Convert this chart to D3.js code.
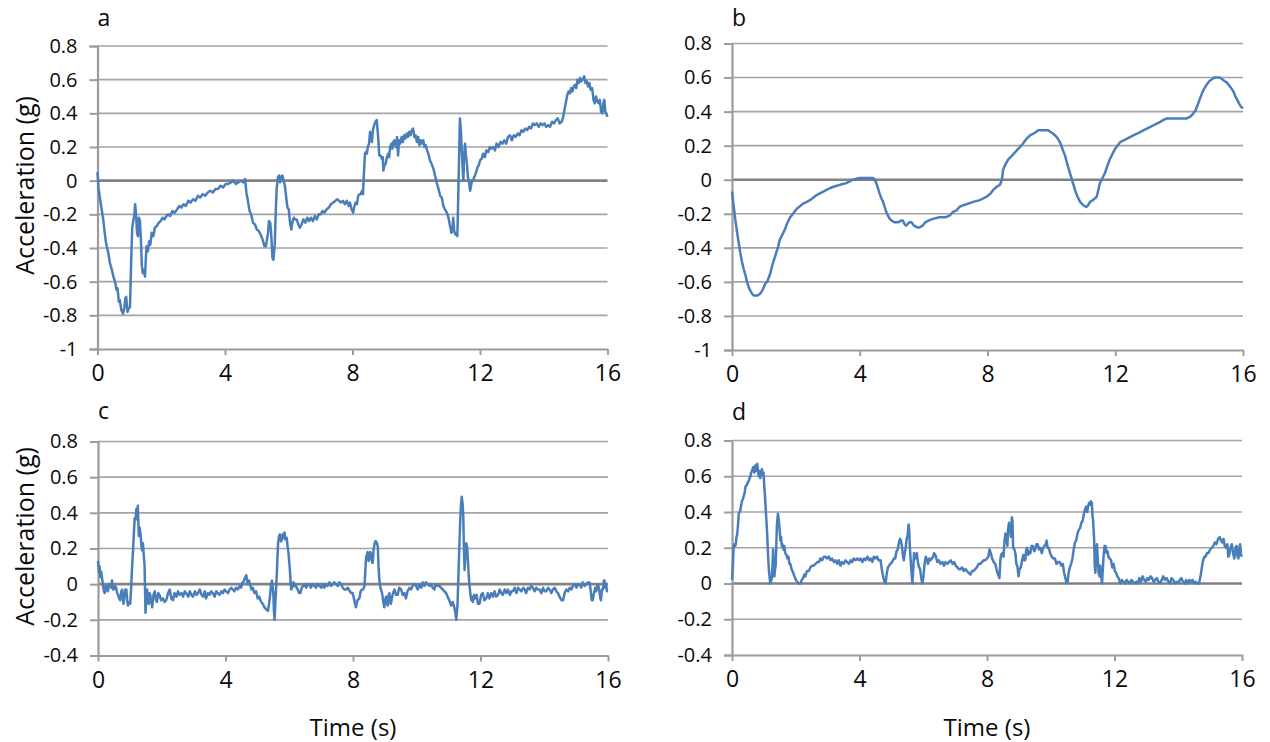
<!DOCTYPE html>
<html>
<head>
<meta charset="utf-8">
<script src="https://cdn.jsdelivr.net/npm/d3@7"></script>
<style>
  html, body { margin: 0; padding: 0; background: #fff; }
  svg { display: block; font-family: "Open Sans", "Noto Sans", sans-serif; }
</style>
</head>
<body>
<svg id="chart" width="1270" height="742"></svg>
<script>
// ---------- Data (time in s, acceleration in g) ----------
const xTickValues = [0, 4, 8, 12, 16];
const yTicksTop = [-1, -0.8, -0.6, -0.4, -0.2, 0, 0.2, 0.4, 0.6, 0.8];
const yTicksBottom = [-0.4, -0.2, 0, 0.2, 0.4, 0.6, 0.8];
const panelLabels = ["a", "b", "c", "d"];
const xTitle = "Time (s)";
const yTitle = "Acceleration (g)";

const seriesA = [[0,0.05],[0.03,-0.04],[0.08,-0.11],[0.13,-0.17],[0.18,-0.23],[0.22,-0.3],[0.26,-0.36],[0.29,-0.39],[0.34,-0.43],[0.39,-0.49],[0.45,-0.53],[0.5,-0.57],[0.55,-0.6],[0.6,-0.65],[0.63,-0.64],[0.67,-0.72],[0.7,-0.71],[0.75,-0.77],[0.8,-0.79],[0.84,-0.76],[0.87,-0.7],[0.9,-0.69],[0.94,-0.78],[0.98,-0.76],[1.02,-0.75],[1.04,-0.6],[1.06,-0.45],[1.09,-0.28],[1.13,-0.23],[1.16,-0.2],[1.18,-0.14],[1.21,-0.2],[1.24,-0.31],[1.27,-0.33],[1.3,-0.22],[1.33,-0.24],[1.36,-0.34],[1.39,-0.5],[1.42,-0.55],[1.46,-0.53],[1.49,-0.57],[1.52,-0.45],[1.54,-0.39],[1.58,-0.42],[1.62,-0.36],[1.66,-0.38],[1.7,-0.31],[1.75,-0.33],[1.8,-0.28],[1.86,-0.27],[1.92,-0.25],[1.98,-0.24],[2.04,-0.22],[2.1,-0.23],[2.16,-0.21],[2.22,-0.2],[2.28,-0.21],[2.35,-0.18],[2.42,-0.19],[2.5,-0.17],[2.57,-0.15],[2.63,-0.16],[2.7,-0.14],[2.77,-0.15],[2.85,-0.12],[2.92,-0.13],[3.0,-0.11],[3.07,-0.12],[3.15,-0.09],[3.22,-0.1],[3.3,-0.08],[3.38,-0.09],[3.46,-0.07],[3.54,-0.06],[3.62,-0.07],[3.7,-0.05],[3.78,-0.05],[3.86,-0.03],[3.94,-0.04],[4.02,-0.02],[4.1,-0.02],[4.18,-0.01],[4.26,0.0],[4.34,-0.02],[4.42,-0.01],[4.5,0.0],[4.58,-0.01],[4.63,0.01],[4.67,-0.07],[4.72,-0.12],[4.77,-0.18],[4.82,-0.2],[4.88,-0.25],[4.94,-0.26],[5.0,-0.29],[5.06,-0.3],[5.12,-0.32],[5.18,-0.35],[5.24,-0.39],[5.28,-0.39],[5.31,-0.36],[5.35,-0.31],[5.38,-0.24],[5.42,-0.25],[5.45,-0.32],[5.49,-0.46],[5.52,-0.47],[5.56,-0.38],[5.59,-0.2],[5.62,-0.05],[5.66,0.02],[5.7,0.03],[5.73,-0.01],[5.76,0.02],[5.8,0.03],[5.84,0.0],[5.88,-0.03],[5.92,-0.1],[5.96,-0.16],[6.0,-0.17],[6.04,-0.25],[6.08,-0.29],[6.12,-0.24],[6.16,-0.22],[6.2,-0.23],[6.25,-0.23],[6.3,-0.26],[6.35,-0.28],[6.4,-0.26],[6.46,-0.23],[6.52,-0.25],[6.58,-0.22],[6.64,-0.24],[6.7,-0.22],[6.76,-0.24],[6.82,-0.21],[6.88,-0.23],[6.94,-0.2],[7.0,-0.2],[7.06,-0.18],[7.12,-0.19],[7.19,-0.17],[7.26,-0.16],[7.32,-0.14],[7.4,-0.13],[7.46,-0.12],[7.52,-0.11],[7.58,-0.12],[7.64,-0.13],[7.7,-0.12],[7.76,-0.14],[7.82,-0.12],[7.88,-0.15],[7.92,-0.13],[7.97,-0.17],[8.02,-0.19],[8.06,-0.15],[8.1,-0.13],[8.14,-0.14],[8.18,-0.09],[8.22,-0.08],[8.26,-0.08],[8.3,-0.06],[8.33,-0.08],[8.36,0.05],[8.39,0.16],[8.42,0.17],[8.45,0.16],[8.48,0.2],[8.52,0.22],[8.55,0.29],[8.58,0.27],[8.61,0.23],[8.64,0.3],[8.68,0.33],[8.72,0.35],[8.76,0.36],[8.8,0.27],[8.84,0.15],[8.88,0.15],[8.92,0.13],[8.95,0.14],[8.97,0.06],[9.0,0.09],[9.04,0.1],[9.08,0.14],[9.12,0.16],[9.15,0.14],[9.18,0.2],[9.22,0.22],[9.25,0.19],[9.28,0.23],[9.32,0.24],[9.36,0.2],[9.4,0.26],[9.43,0.15],[9.46,0.24],[9.5,0.22],[9.54,0.26],[9.58,0.23],[9.62,0.27],[9.66,0.25],[9.7,0.28],[9.74,0.26],[9.78,0.29],[9.82,0.27],[9.86,0.3],[9.9,0.31],[9.94,0.26],[9.98,0.27],[10.02,0.23],[10.06,0.26],[10.1,0.21],[10.14,0.24],[10.18,0.22],[10.22,0.24],[10.26,0.2],[10.3,0.21],[10.34,0.18],[10.38,0.16],[10.43,0.12],[10.48,0.1],[10.54,0.07],[10.59,0.03],[10.64,-0.01],[10.7,-0.05],[10.75,-0.09],[10.8,-0.1],[10.85,-0.15],[10.9,-0.17],[10.96,-0.19],[11.01,-0.22],[11.06,-0.27],[11.1,-0.31],[11.13,-0.3],[11.16,-0.22],[11.19,-0.3],[11.23,-0.32],[11.27,-0.31],[11.29,-0.33],[11.32,-0.07],[11.35,0.2],[11.37,0.37],[11.4,0.3],[11.43,0.17],[11.46,0.05],[11.48,0.0],[11.5,0.15],[11.53,0.22],[11.56,0.15],[11.59,0.1],[11.62,0.02],[11.65,0.0],[11.69,-0.06],[11.72,-0.03],[11.75,0.0],[11.8,0.01],[11.84,0.03],[11.88,0.05],[11.92,0.08],[11.96,0.09],[12.0,0.12],[12.05,0.13],[12.1,0.16],[12.15,0.14],[12.2,0.18],[12.26,0.17],[12.31,0.2],[12.36,0.19],[12.42,0.2],[12.47,0.18],[12.52,0.22],[12.58,0.2],[12.64,0.23],[12.7,0.22],[12.76,0.24],[12.82,0.22],[12.88,0.26],[12.94,0.27],[13.0,0.24],[13.06,0.27],[13.12,0.26],[13.18,0.28],[13.24,0.27],[13.3,0.3],[13.36,0.29],[13.42,0.31],[13.48,0.3],[13.54,0.32],[13.6,0.31],[13.66,0.34],[13.72,0.33],[13.78,0.34],[13.84,0.32],[13.9,0.34],[13.96,0.33],[14.02,0.34],[14.08,0.32],[14.14,0.33],[14.2,0.32],[14.26,0.35],[14.32,0.34],[14.38,0.36],[14.44,0.37],[14.5,0.34],[14.56,0.35],[14.6,0.37],[14.63,0.4],[14.67,0.44],[14.7,0.47],[14.74,0.51],[14.78,0.53],[14.82,0.52],[14.86,0.55],[14.9,0.53],[14.94,0.56],[14.98,0.57],[15.02,0.55],[15.06,0.6],[15.1,0.58],[15.14,0.61],[15.18,0.59],[15.22,0.6],[15.27,0.62],[15.31,0.58],[15.35,0.59],[15.39,0.56],[15.43,0.58],[15.47,0.54],[15.52,0.55],[15.56,0.48],[15.6,0.46],[15.64,0.5],[15.68,0.47],[15.72,0.46],[15.76,0.48],[15.8,0.41],[15.84,0.4],[15.87,0.46],[15.9,0.48],[15.93,0.41],[15.96,0.4],[16.0,0.38]];

const seriesB = [[0,-0.07],[0.05,-0.15],[0.1,-0.23],[0.16,-0.31],[0.21,-0.37],[0.26,-0.43],[0.31,-0.48],[0.36,-0.52],[0.42,-0.56],[0.47,-0.6],[0.52,-0.63],[0.57,-0.65],[0.63,-0.67],[0.68,-0.68],[0.73,-0.68],[0.8,-0.68],[0.88,-0.67],[0.95,-0.65],[1.0,-0.63],[1.04,-0.61],[1.1,-0.6],[1.14,-0.58],[1.2,-0.55],[1.25,-0.51],[1.3,-0.48],[1.35,-0.45],[1.4,-0.42],[1.45,-0.39],[1.5,-0.35],[1.56,-0.33],[1.61,-0.31],[1.66,-0.29],[1.72,-0.26],[1.77,-0.24],[1.82,-0.22],[1.87,-0.21],[1.95,-0.19],[2.03,-0.17],[2.13,-0.155],[2.23,-0.14],[2.34,-0.13],[2.44,-0.12],[2.55,-0.105],[2.65,-0.09],[2.75,-0.08],[2.86,-0.07],[2.96,-0.06],[3.06,-0.05],[3.2,-0.04],[3.38,-0.03],[3.58,-0.02],[3.79,0.0],[4.0,0.01],[4.2,0.01],[4.42,0.01],[4.47,0.0],[4.52,-0.02],[4.57,-0.05],[4.62,-0.08],[4.68,-0.11],[4.73,-0.13],[4.78,-0.16],[4.83,-0.19],[4.88,-0.21],[4.94,-0.23],[5.0,-0.24],[5.1,-0.25],[5.2,-0.25],[5.3,-0.24],[5.35,-0.24],[5.4,-0.26],[5.45,-0.27],[5.5,-0.26],[5.56,-0.25],[5.62,-0.25],[5.7,-0.27],[5.8,-0.28],[5.87,-0.28],[5.97,-0.27],[6.05,-0.25],[6.15,-0.24],[6.29,-0.23],[6.49,-0.22],[6.7,-0.22],[6.82,-0.21],[6.91,-0.19],[7.03,-0.18],[7.12,-0.16],[7.24,-0.15],[7.4,-0.14],[7.55,-0.13],[7.76,-0.12],[7.97,-0.1],[8.1,-0.08],[8.18,-0.06],[8.3,-0.04],[8.39,-0.03],[8.45,0.0],[8.49,0.06],[8.56,0.09],[8.65,0.12],[8.76,0.14],[8.86,0.16],[8.95,0.18],[9.01,0.19],[9.1,0.21],[9.22,0.24],[9.33,0.26],[9.43,0.27],[9.52,0.28],[9.59,0.29],[9.75,0.29],[9.9,0.29],[9.98,0.28],[10.06,0.27],[10.17,0.25],[10.27,0.22],[10.35,0.18],[10.43,0.14],[10.5,0.09],[10.58,0.04],[10.66,-0.01],[10.74,-0.06],[10.82,-0.1],[10.9,-0.13],[11.0,-0.15],[11.09,-0.16],[11.15,-0.15],[11.21,-0.13],[11.3,-0.12],[11.42,-0.1],[11.47,-0.06],[11.52,-0.02],[11.6,0.01],[11.68,0.04],[11.75,0.08],[11.83,0.12],[11.91,0.15],[11.99,0.18],[12.07,0.2],[12.15,0.22],[12.25,0.23],[12.36,0.24],[12.46,0.25],[12.57,0.26],[12.68,0.27],[12.78,0.28],[12.88,0.29],[12.99,0.3],[13.1,0.31],[13.2,0.32],[13.3,0.33],[13.41,0.34],[13.5,0.35],[13.62,0.36],[13.83,0.36],[14.04,0.36],[14.24,0.36],[14.35,0.37],[14.45,0.39],[14.52,0.41],[14.56,0.43],[14.64,0.47],[14.72,0.51],[14.8,0.54],[14.87,0.56],[14.95,0.58],[15.03,0.59],[15.1,0.6],[15.19,0.6],[15.27,0.6],[15.35,0.59],[15.42,0.58],[15.5,0.57],[15.58,0.55],[15.66,0.53],[15.72,0.51],[15.76,0.49],[15.82,0.47],[15.87,0.45],[15.93,0.43],[16.0,0.42]];

const seriesC = [[0,0.13],[0.03,0.07],[0.05,0.1],[0.07,0.04],[0.1,0.07],[0.13,0.03],[0.16,-0.01],[0.19,-0.04],[0.21,-0.05],[0.24,-0.01],[0.26,-0.01],[0.29,-0.03],[0.31,-0.04],[0.35,0.0],[0.39,0.0],[0.42,-0.02],[0.44,0.02],[0.47,-0.03],[0.49,-0.03],[0.53,-0.01],[0.57,-0.02],[0.6,-0.05],[0.63,-0.06],[0.66,-0.08],[0.7,-0.09],[0.73,-0.04],[0.76,-0.03],[0.8,-0.11],[0.83,-0.07],[0.86,-0.03],[0.89,-0.03],[0.92,-0.1],[0.94,-0.12],[0.98,-0.1],[1.01,-0.11],[1.04,-0.02],[1.07,0.1],[1.1,0.19],[1.13,0.3],[1.15,0.37],[1.18,0.36],[1.2,0.42],[1.23,0.4],[1.25,0.44],[1.28,0.27],[1.3,0.32],[1.33,0.29],[1.36,0.22],[1.38,0.19],[1.41,0.23],[1.44,0.15],[1.46,0.11],[1.49,-0.16],[1.52,-0.06],[1.54,-0.03],[1.57,-0.1],[1.59,-0.11],[1.62,-0.05],[1.64,-0.06],[1.67,-0.1],[1.7,-0.13],[1.74,-0.06],[1.78,-0.04],[1.82,-0.09],[1.85,-0.1],[1.89,-0.05],[1.93,-0.06],[1.98,-0.09],[2.04,-0.08],[2.09,-0.1],[2.14,-0.09],[2.2,-0.05],[2.25,-0.03],[2.3,-0.08],[2.35,-0.09],[2.4,-0.05],[2.46,-0.07],[2.51,-0.04],[2.56,-0.06],[2.62,-0.05],[2.67,-0.07],[2.72,-0.04],[2.77,-0.05],[2.83,-0.07],[2.88,-0.04],[2.93,-0.06],[2.98,-0.07],[3.04,-0.04],[3.09,-0.06],[3.14,-0.05],[3.19,-0.03],[3.25,-0.06],[3.3,-0.07],[3.35,-0.04],[3.39,-0.08],[3.45,-0.05],[3.5,-0.06],[3.55,-0.04],[3.6,-0.05],[3.66,-0.07],[3.71,-0.04],[3.76,-0.05],[3.81,-0.06],[3.87,-0.04],[3.92,-0.05],[3.97,-0.03],[4.02,-0.04],[4.08,-0.05],[4.13,-0.03],[4.18,-0.02],[4.23,-0.03],[4.28,-0.04],[4.33,-0.02],[4.39,-0.03],[4.44,-0.01],[4.49,-0.02],[4.53,0.01],[4.56,0.01],[4.6,0.03],[4.65,0.05],[4.7,0.0],[4.74,0.02],[4.78,-0.01],[4.82,-0.03],[4.86,-0.02],[4.91,-0.05],[4.96,-0.04],[5.01,-0.08],[5.06,-0.07],[5.12,-0.1],[5.17,-0.11],[5.22,-0.13],[5.27,-0.14],[5.33,-0.15],[5.36,-0.12],[5.4,-0.06],[5.43,0.0],[5.46,0.02],[5.5,-0.05],[5.52,-0.15],[5.54,-0.2],[5.56,-0.12],[5.58,-0.05],[5.61,0.06],[5.63,0.15],[5.65,0.23],[5.68,0.27],[5.71,0.28],[5.74,0.24],[5.77,0.25],[5.8,0.28],[5.83,0.26],[5.85,0.29],[5.88,0.25],[5.92,0.26],[5.95,0.21],[5.98,0.17],[6.0,0.12],[6.02,0.08],[6.04,0.02],[6.06,-0.03],[6.09,-0.02],[6.13,0.01],[6.16,-0.01],[6.19,0.0],[6.23,-0.02],[6.27,-0.03],[6.31,-0.05],[6.35,-0.05],[6.39,-0.02],[6.44,-0.01],[6.48,0.0],[6.53,-0.02],[6.58,0.0],[6.63,0.0],[6.68,-0.02],[6.73,0.0],[6.79,-0.01],[6.84,-0.02],[6.89,0.0],[6.95,-0.01],[7.0,-0.02],[7.05,0.0],[7.1,-0.02],[7.15,0.0],[7.2,-0.01],[7.26,0.01],[7.31,-0.01],[7.36,0.0],[7.41,0.01],[7.47,0.0],[7.52,-0.01],[7.57,0.01],[7.62,0.0],[7.68,-0.02],[7.73,-0.03],[7.78,-0.03],[7.84,-0.02],[7.9,-0.04],[7.94,-0.05],[7.99,-0.05],[8.04,-0.09],[8.09,-0.13],[8.14,-0.09],[8.2,-0.08],[8.24,-0.04],[8.28,-0.03],[8.32,-0.03],[8.36,-0.01],[8.41,0.15],[8.46,0.18],[8.49,0.13],[8.51,0.14],[8.54,0.18],[8.57,0.17],[8.6,0.12],[8.62,0.12],[8.65,0.2],[8.67,0.22],[8.7,0.24],[8.72,0.24],[8.75,0.23],[8.78,0.21],[8.8,0.1],[8.83,0.02],[8.86,-0.02],[8.88,-0.03],[8.91,-0.05],[8.93,-0.07],[8.96,-0.11],[8.98,-0.13],[9.01,-0.09],[9.04,-0.07],[9.07,-0.11],[9.09,-0.12],[9.12,-0.06],[9.14,-0.05],[9.17,-0.1],[9.19,-0.11],[9.24,-0.06],[9.3,-0.03],[9.35,-0.06],[9.4,-0.06],[9.45,-0.02],[9.51,-0.03],[9.56,-0.06],[9.61,-0.05],[9.66,-0.08],[9.71,-0.04],[9.77,-0.02],[9.82,-0.03],[9.87,-0.01],[9.93,0.0],[9.98,-0.01],[10.03,-0.03],[10.09,0.0],[10.14,-0.02],[10.19,0.01],[10.24,-0.01],[10.29,0.01],[10.35,0.0],[10.4,-0.01],[10.45,0.0],[10.5,-0.02],[10.55,-0.03],[10.6,0.0],[10.66,-0.01],[10.71,-0.01],[10.76,-0.02],[10.82,-0.03],[10.87,-0.04],[10.92,-0.05],[10.97,-0.07],[11.02,-0.09],[11.08,-0.12],[11.13,-0.1],[11.18,-0.13],[11.21,-0.16],[11.24,-0.2],[11.28,-0.11],[11.32,0.12],[11.36,0.34],[11.39,0.45],[11.41,0.49],[11.44,0.45],[11.46,0.38],[11.48,0.2],[11.5,0.08],[11.53,0.18],[11.55,0.23],[11.58,0.21],[11.6,0.15],[11.63,0.05],[11.65,0.0],[11.68,-0.05],[11.71,-0.09],[11.73,-0.07],[11.76,-0.1],[11.8,-0.06],[11.84,-0.08],[11.88,-0.06],[11.92,-0.11],[11.97,-0.11],[12.02,-0.06],[12.07,-0.05],[12.12,-0.09],[12.18,-0.08],[12.23,-0.05],[12.28,-0.08],[12.34,-0.05],[12.39,-0.07],[12.44,-0.04],[12.49,-0.07],[12.55,-0.06],[12.6,-0.03],[12.65,-0.05],[12.7,-0.06],[12.76,-0.03],[12.81,-0.05],[12.86,-0.03],[12.92,-0.06],[12.97,-0.04],[13.02,-0.04],[13.07,-0.02],[13.13,-0.05],[13.18,-0.02],[13.23,-0.03],[13.28,-0.04],[13.34,-0.02],[13.39,-0.03],[13.43,-0.05],[13.49,-0.02],[13.54,-0.03],[13.59,-0.01],[13.64,-0.02],[13.7,-0.04],[13.75,-0.02],[13.8,-0.03],[13.85,-0.03],[13.91,-0.05],[13.96,-0.02],[14.01,-0.04],[14.06,-0.04],[14.12,-0.02],[14.17,-0.03],[14.22,-0.05],[14.27,-0.03],[14.33,-0.02],[14.38,-0.04],[14.43,-0.05],[14.48,-0.07],[14.54,-0.09],[14.59,-0.09],[14.64,-0.05],[14.69,-0.03],[14.75,-0.04],[14.8,-0.02],[14.85,-0.03],[14.9,-0.01],[14.96,0.0],[15.01,-0.02],[15.06,0.0],[15.11,0.0],[15.16,-0.02],[15.21,0.01],[15.27,-0.01],[15.32,0.0],[15.37,0.01],[15.42,0.01],[15.46,-0.04],[15.49,-0.09],[15.52,-0.09],[15.56,-0.05],[15.6,-0.02],[15.63,-0.04],[15.67,0.0],[15.7,-0.01],[15.73,-0.04],[15.76,-0.08],[15.78,-0.09],[15.81,-0.03],[15.84,-0.03],[15.87,0.02],[15.89,0.02],[15.92,-0.02],[15.94,0.0],[15.97,-0.04],[16.0,-0.04]];

const seriesD = [[0,0.02],[0.03,0.11],[0.05,0.2],[0.07,0.22],[0.1,0.21],[0.12,0.22],[0.14,0.26],[0.16,0.27],[0.19,0.33],[0.21,0.39],[0.24,0.4],[0.26,0.41],[0.29,0.44],[0.31,0.46],[0.34,0.47],[0.37,0.49],[0.4,0.51],[0.42,0.54],[0.45,0.55],[0.47,0.55],[0.5,0.57],[0.52,0.57],[0.55,0.59],[0.58,0.6],[0.6,0.62],[0.63,0.63],[0.66,0.65],[0.68,0.65],[0.7,0.62],[0.73,0.66],[0.76,0.63],[0.79,0.67],[0.81,0.64],[0.84,0.6],[0.86,0.63],[0.89,0.59],[0.91,0.62],[0.94,0.64],[0.97,0.61],[0.99,0.62],[1.01,0.55],[1.03,0.5],[1.06,0.41],[1.1,0.29],[1.13,0.16],[1.16,0.07],[1.2,0.0],[1.22,0.01],[1.25,0.03],[1.27,0.1],[1.29,0.19],[1.31,0.1],[1.33,0.04],[1.35,0.08],[1.37,0.1],[1.41,0.33],[1.44,0.39],[1.46,0.37],[1.5,0.29],[1.52,0.24],[1.54,0.26],[1.56,0.21],[1.58,0.22],[1.61,0.19],[1.64,0.21],[1.67,0.17],[1.71,0.16],[1.74,0.14],[1.77,0.15],[1.8,0.11],[1.83,0.11],[1.87,0.08],[1.92,0.06],[1.96,0.04],[2.0,0.02],[2.05,0.01],[2.09,0.0],[2.15,0.0],[2.19,0.02],[2.23,0.03],[2.27,0.05],[2.3,0.04],[2.35,0.07],[2.41,0.07],[2.46,0.09],[2.51,0.1],[2.56,0.1],[2.62,0.11],[2.68,0.12],[2.73,0.12],[2.77,0.14],[2.83,0.13],[2.88,0.15],[2.93,0.15],[2.98,0.14],[3.04,0.15],[3.09,0.13],[3.14,0.14],[3.2,0.12],[3.25,0.13],[3.3,0.11],[3.35,0.13],[3.4,0.1],[3.45,0.12],[3.5,0.11],[3.56,0.13],[3.61,0.12],[3.67,0.11],[3.72,0.13],[3.77,0.12],[3.82,0.14],[3.87,0.13],[3.93,0.14],[3.98,0.13],[4.03,0.14],[4.09,0.12],[4.14,0.14],[4.19,0.13],[4.25,0.15],[4.3,0.13],[4.35,0.14],[4.4,0.12],[4.45,0.15],[4.5,0.14],[4.55,0.15],[4.6,0.13],[4.66,0.13],[4.7,0.08],[4.74,0.04],[4.78,0.01],[4.82,0.0],[4.85,0.05],[4.89,0.09],[4.93,0.1],[4.97,0.11],[5.02,0.12],[5.08,0.14],[5.12,0.14],[5.16,0.18],[5.2,0.19],[5.24,0.23],[5.27,0.25],[5.3,0.24],[5.33,0.21],[5.36,0.16],[5.39,0.13],[5.42,0.17],[5.45,0.2],[5.48,0.25],[5.51,0.27],[5.54,0.33],[5.56,0.3],[5.58,0.2],[5.61,0.12],[5.63,0.07],[5.66,0.0],[5.69,0.09],[5.71,0.17],[5.74,0.16],[5.77,0.14],[5.8,0.17],[5.83,0.12],[5.87,0.09],[5.9,0.08],[5.93,0.04],[5.97,0.0],[6.0,0.03],[6.02,0.07],[6.05,0.12],[6.08,0.15],[6.12,0.13],[6.15,0.11],[6.19,0.14],[6.23,0.13],[6.27,0.14],[6.31,0.15],[6.34,0.17],[6.38,0.16],[6.44,0.12],[6.49,0.13],[6.54,0.11],[6.6,0.12],[6.65,0.1],[6.7,0.12],[6.76,0.11],[6.81,0.12],[6.86,0.13],[6.92,0.11],[6.97,0.12],[7.02,0.1],[7.07,0.09],[7.12,0.08],[7.17,0.08],[7.22,0.09],[7.27,0.07],[7.32,0.08],[7.37,0.07],[7.42,0.06],[7.48,0.05],[7.53,0.07],[7.58,0.07],[7.63,0.08],[7.68,0.09],[7.74,0.11],[7.79,0.11],[7.84,0.12],[7.9,0.13],[7.95,0.13],[8.0,0.14],[8.04,0.15],[8.08,0.19],[8.12,0.17],[8.16,0.14],[8.21,0.12],[8.26,0.11],[8.31,0.07],[8.35,0.05],[8.39,0.03],[8.42,0.13],[8.44,0.16],[8.48,0.17],[8.52,0.15],[8.55,0.24],[8.58,0.28],[8.61,0.26],[8.64,0.21],[8.66,0.3],[8.69,0.34],[8.72,0.32],[8.75,0.26],[8.78,0.37],[8.8,0.35],[8.82,0.2],[8.86,0.19],[8.89,0.17],[8.92,0.11],[8.95,0.1],[8.99,0.04],[9.02,0.08],[9.06,0.09],[9.1,0.13],[9.14,0.16],[9.17,0.13],[9.2,0.13],[9.23,0.19],[9.26,0.2],[9.29,0.16],[9.32,0.18],[9.36,0.17],[9.4,0.21],[9.44,0.21],[9.48,0.18],[9.51,0.19],[9.55,0.22],[9.59,0.22],[9.63,0.19],[9.67,0.2],[9.72,0.17],[9.76,0.2],[9.8,0.21],[9.84,0.22],[9.87,0.24],[9.9,0.2],[9.94,0.2],[9.98,0.17],[10.03,0.15],[10.08,0.14],[10.13,0.14],[10.18,0.11],[10.23,0.12],[10.28,0.12],[10.33,0.1],[10.38,0.11],[10.42,0.06],[10.46,0.03],[10.5,0.0],[10.53,0.01],[10.56,0.06],[10.6,0.09],[10.64,0.11],[10.68,0.14],[10.72,0.19],[10.76,0.23],[10.8,0.24],[10.84,0.28],[10.88,0.3],[10.92,0.31],[10.96,0.34],[11.0,0.35],[11.04,0.39],[11.07,0.41],[11.11,0.43],[11.14,0.4],[11.17,0.43],[11.2,0.45],[11.23,0.44],[11.26,0.46],[11.29,0.45],[11.31,0.38],[11.33,0.35],[11.36,0.25],[11.38,0.1],[11.4,0.06],[11.43,0.18],[11.45,0.22],[11.48,0.12],[11.5,0.06],[11.53,0.04],[11.55,0.1],[11.58,0.04],[11.61,0.0],[11.64,0.1],[11.66,0.16],[11.69,0.21],[11.72,0.21],[11.75,0.17],[11.78,0.18],[11.81,0.15],[11.85,0.14],[11.89,0.13],[11.93,0.09],[11.97,0.11],[12.01,0.07],[12.05,0.06],[12.09,0.04],[12.13,0.03],[12.18,0.0],[12.23,0.02],[12.28,0.01],[12.33,0.0],[12.38,0.02],[12.43,0.01],[12.48,0.0],[12.53,0.02],[12.58,0.01],[12.63,0.0],[12.68,0.01],[12.73,0.0],[12.78,0.03],[12.83,0.01],[12.88,0.04],[12.93,0.02],[12.98,0.01],[13.03,0.03],[13.08,0.02],[13.13,0.04],[13.18,0.03],[13.23,0.01],[13.28,0.02],[13.33,0.03],[13.38,0.01],[13.43,0.0],[13.48,0.02],[13.53,0.04],[13.58,0.02],[13.64,0.03],[13.69,0.01],[13.74,0.0],[13.79,0.03],[13.84,0.02],[13.9,0.0],[13.95,0.01],[14.0,0.0],[14.05,0.02],[14.1,0.03],[14.15,0.01],[14.2,0.0],[14.25,0.02],[14.3,0.0],[14.35,0.02],[14.4,0.01],[14.45,0.02],[14.5,0.0],[14.55,0.01],[14.6,0.0],[14.65,0.0],[14.7,0.04],[14.74,0.09],[14.78,0.13],[14.82,0.15],[14.86,0.15],[14.9,0.17],[14.95,0.17],[15.0,0.19],[15.05,0.2],[15.1,0.21],[15.15,0.23],[15.2,0.22],[15.25,0.25],[15.3,0.26],[15.34,0.24],[15.38,0.23],[15.42,0.25],[15.46,0.21],[15.5,0.2],[15.54,0.22],[15.57,0.15],[15.6,0.16],[15.64,0.2],[15.68,0.22],[15.72,0.17],[15.76,0.14],[15.8,0.2],[15.83,0.21],[15.86,0.15],[15.89,0.14],[15.92,0.2],[15.94,0.22],[15.97,0.16],[16.0,0.15]];

// ---------- Layout ----------
const panels = [
  { label: panelLabels[0], data: seriesA, yTicks: yTicksTop,    xr: [97.5, 607.5], yr: [349, 46],      labelY: 26,  yTitle: true,  xTitle: false },
  { label: panelLabels[1], data: seriesB, yTicks: yTicksTop,    xr: [732, 1243],   yr: [350, 43.5],    labelY: 26,  yTitle: false, xTitle: false },
  { label: panelLabels[2], data: seriesC, yTicks: yTicksBottom, xr: [98, 608],     yr: [655.5, 441.5], labelY: 419, yTitle: true,  xTitle: true },
  { label: panelLabels[3], data: seriesD, yTicks: yTicksBottom, xr: [732, 1242],   yr: [655, 440.5],   labelY: 420, yTitle: false, xTitle: true }
];

const svg = d3.select("#chart");
const gridColor = "#a3a3a3";
const zeroColor = "#828282";
const axisColor = "#9c9c9c";
const lineColor = "#4a7ebb";
const textColor = "#0a0a0a";
const fmt = d => String(Math.round(d * 10) / 10);

panels.forEach(p => {
  const x = d3.scaleLinear().domain([0, 16]).range(p.xr);
  const y = d3.scaleLinear().domain(d3.extent(p.yTicks)).range(p.yr);
  const g = svg.append("g");

  // gridlines
  g.selectAll("line.grid").data(p.yTicks.filter(v => v !== p.yTicks[0]))
    .enter().append("line")
    .attr("x1", p.xr[0]).attr("x2", p.xr[1])
    .attr("y1", d => y(d)).attr("y2", d => y(d))
    .attr("stroke", d => d === 0 ? zeroColor : gridColor)
    .attr("stroke-width", d => d === 0 ? 2.6 : 1.6);

  // y axis
  const yAxis = d3.axisLeft(y).tickValues(p.yTicks).tickFormat(fmt).tickSize(8).tickPadding(12);
  const ya = g.append("g").attr("transform", `translate(${p.xr[0]},0)`).call(yAxis);
  ya.select(".domain").attr("stroke", axisColor).attr("stroke-width", 2.2);
  ya.selectAll(".tick line").attr("stroke", axisColor).attr("stroke-width", 2);
  ya.selectAll("text").attr("font-size", 20).attr("fill", textColor).attr("font-family", "Open Sans");

  // x axis
  const xAxis = d3.axisBottom(x).tickValues(xTickValues).tickSize(6).tickPadding(10).tickSizeOuter(0);
  const xa = g.append("g").attr("transform", `translate(0,${p.yr[0]})`).call(xAxis);
  xa.select(".domain").attr("stroke", axisColor).attr("stroke-width", 2.2);
  xa.selectAll(".tick line").attr("stroke", axisColor).attr("stroke-width", 2);
  xa.selectAll("text").attr("font-size", 23).attr("fill", textColor).attr("font-family", "Open Sans");

  // series line
  const line = d3.line().x(d => x(d[0])).y(d => y(d[1]));
  g.append("path").datum(p.data)
    .attr("d", line)
    .attr("fill", "none")
    .attr("stroke", lineColor)
    .attr("stroke-width", 2.5)
    .attr("stroke-linejoin", "round");

  // panel label
  g.append("text")
    .attr("x", p.xr[0]).attr("y", p.labelY)
    .attr("font-size", 23).attr("fill", textColor)
    .text(p.label);

  if (p.yTitle) {
    const cy = (p.yr[0] + p.yr[1]) / 2 - 12;
    g.append("text")
      .attr("transform", `translate(34,${cy}) rotate(-90)`)
      .attr("text-anchor", "middle")
      .attr("font-size", 25).attr("fill", textColor)
      .text(yTitle);
  }
  if (p.xTitle) {
    g.append("text")
      .attr("x", (p.xr[0] + p.xr[1]) / 2).attr("y", 736)
      .attr("text-anchor", "middle")
      .attr("font-size", 24).attr("fill", textColor)
      .text(xTitle);
  }
});
</script>
</body>
</html>
